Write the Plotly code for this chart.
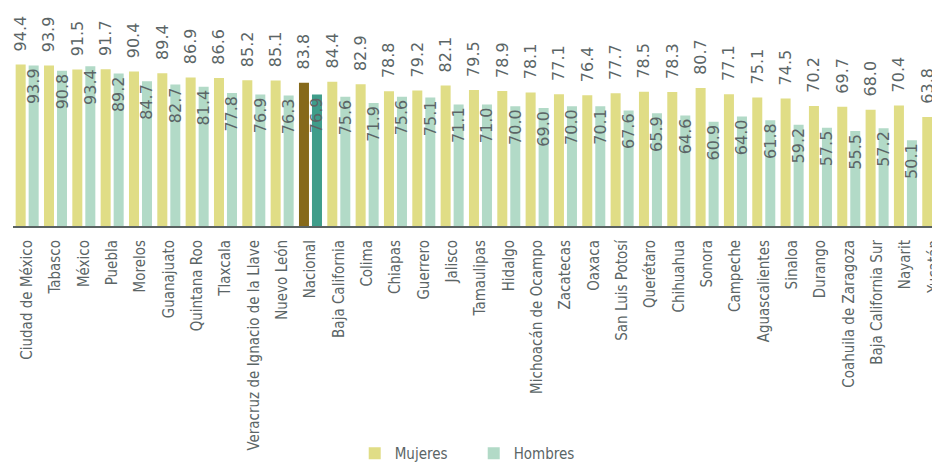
import plotly.graph_objects as go

categorias = ["Ciudad de México", "Tabasco", "México", "Puebla", "Morelos", "Guanajuato",
              "Quintana Roo", "Tlaxcala", "Veracruz de Ignacio de la Llave", "Nuevo León",
              "Nacional", "Baja California", "Colima", "Chiapas", "Guerrero", "Jalisco",
              "Tamaulipas", "Hidalgo", "Michoacán de Ocampo", "Zacatecas", "Oaxaca",
              "San Luis Potosí", "Querétaro", "Chihuahua", "Sonora", "Campeche",
              "Aguascalientes", "Sinaloa", "Durango", "Coahuila de Zaragoza",
              "Baja California Sur", "Nayarit", "Yucatán"]
mujeres = [94.4, 93.9, 91.5, 91.7, 90.4, 89.4, 86.9, 86.6, 85.2, 85.1,
           83.8, 84.4, 82.9, 78.8, 79.2, 82.1, 79.5, 78.9, 78.1, 77.1, 76.4,
           77.7, 78.5, 78.3, 80.7, 77.1, 75.1, 74.5, 70.2, 69.7, 68.0, 70.4, 63.8]
hombres = [93.9, 90.8, 93.4, 89.2, 84.7, 82.7, 81.4, 77.8, 76.9, 76.3,
           76.9, 75.6, 71.9, 75.6, 75.1, 71.1, 71.0, 70.0, 69.0, 70.0, 70.1,
           67.6, 65.9, 64.6, 60.9, 64.0, 61.8, 59.2, 57.5, 55.5, 57.2, 50.1, 49.8]

FONT = "'Liberation Sans Narrow', 'DejaVu Sans Condensed', Roboto, sans-serif"
VFONT = "'DejaVu Sans', sans-serif"
TXT = "#5b6566"
col_m = ["#86691a" if c == "Nacional" else "#e0dd86" for c in categorias]
col_h = ["#3f9d8a" if c == "Nacional" else "#b2dac7" for c in categorias]

fig = go.Figure()
fig.add_trace(go.Bar(
    name="Mujeres", x=categorias, y=mujeres, marker=dict(color=col_m, line=dict(width=0)),
    texttemplate="\u00a0\u00a0%{y:.1f}", textposition="outside", textangle=-90,
    constraintext="none", cliponaxis=False,
    textfont=dict(size=16, color=TXT, family=VFONT),
))
fig.add_trace(go.Bar(
    name="Hombres", x=categorias, y=hombres, marker=dict(color=col_h, line=dict(width=0)),
    texttemplate="%{y:.1f}", textposition="inside", insidetextanchor="end", textangle=-90,
    constraintext="none", cliponaxis=False,
    insidetextfont=dict(size=16, color=TXT, family=VFONT),
    textfont=dict(size=16, color=TXT, family=VFONT),
))
fig.update_layout(
    width=932, height=454,
    margin=dict(l=5, r=0, t=47, b=236, autoexpand=False),
    paper_bgcolor="white", plot_bgcolor="white",
    barmode="group", bargap=0.082, bargroupgap=0.23,
    uniformtext=dict(minsize=16, mode="show"),
    font=dict(family=FONT, color=TXT, size=14),
    showlegend=True,
    legend=dict(orientation="h", x=0.497, xanchor="center", y=-1.33, yanchor="middle",
                yref="paper", entrywidth=74,
                font=dict(size=15, color=TXT, family=FONT)),
    xaxis=dict(range=[-0.5, 32.22], tickangle=-90, showline=True, linecolor="#5a6262",
               linewidth=2, ticks="", showgrid=False, automargin=False,
               ticklabelstandoff=6,
               ticklabeloverflow="allow", tickfont=dict(size=15, color=TXT)),
    yaxis=dict(range=[0, 100], visible=False, showgrid=False, automargin=False),
)
fig.write_html("out.html")
